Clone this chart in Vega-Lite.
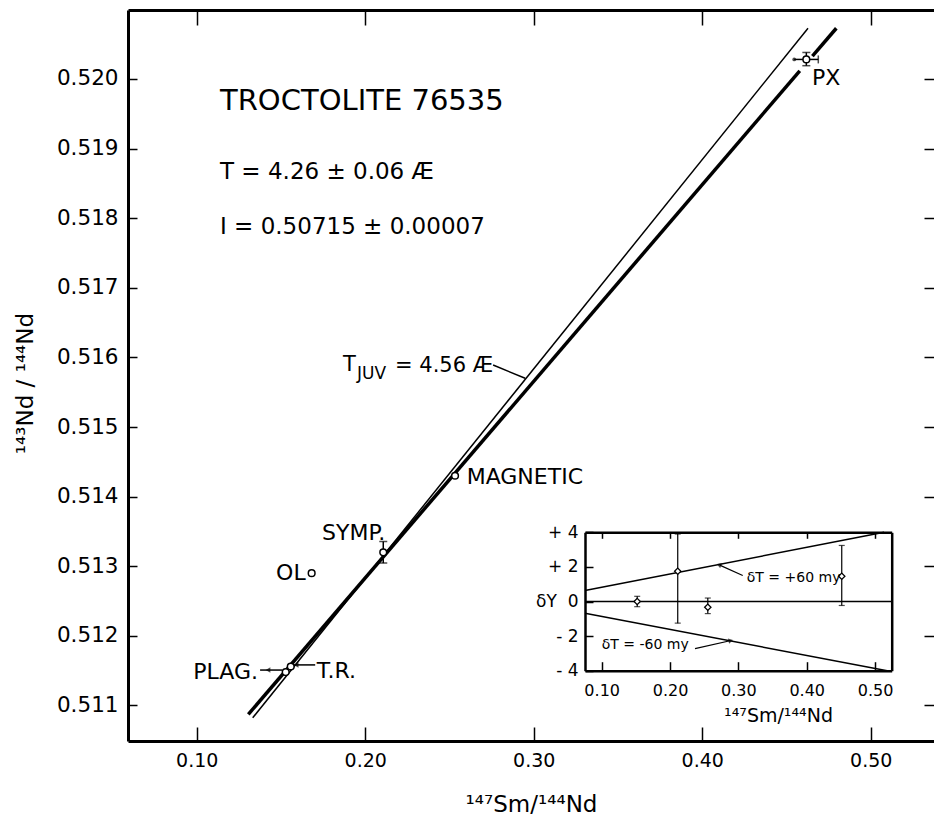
{
  "$schema": "https://vega.github.io/schema/vega-lite/v6.json",
  "width": 806,
  "height": 731,
  "autosize": {"type": "none"},
  "padding": {"left": 128, "top": 10, "right": 0, "bottom": 86},
  "background": "white",
  "config": {
    "view": {"stroke": null},
    "font": "DejaVu Sans",
    "axis": {"grid": false, "domainColor": "black", "tickColor": "black", "labelColor": "black", "titleColor": "black", "labelFont": "DejaVu Sans", "titleFont": "DejaVu Sans", "titleFontWeight": "normal"}
  },
  "datasets": {
    "iso": [
      {"seg": "a", "x": 0.1306, "y": 0.510872},
      {"seg": "a", "x": 0.4579, "y": 0.520116},
      {"seg": "b", "x": 0.4654, "y": 0.520328},
      {"seg": "b", "x": 0.4796, "y": 0.520728}
    ],
    "juv": [
      {"x": 0.1332, "y": 0.510823},
      {"x": 0.4628, "y": 0.520728}
    ],
    "pts": [
      {"name": "PLAG.", "x": 0.1528, "y": 0.51148},
      {"name": "T.R.", "x": 0.1558, "y": 0.51156},
      {"name": "OL", "x": 0.1682, "y": 0.5129},
      {"name": "SYMP.", "x": 0.2107, "y": 0.5132},
      {"name": "MAGNETIC", "x": 0.2533, "y": 0.5143},
      {"name": "PX", "x": 0.4618, "y": 0.52028}
    ],
    "ebarY": [
      {"x": 0.2107, "lo": 0.513045, "hi": 0.513355},
      {"x": 0.4618, "lo": 0.52019, "hi": 0.52038}
    ],
    "ebarX": [
      {"y": 0.52028, "lo": 0.4546, "hi": 0.4689}
    ],
    "labels": [
      {"text": "MAGNETIC", "x": 0.2602, "y": 0.514286},
      {"text": "SYMP.", "x": 0.1744, "y": 0.513477},
      {"text": "OL", "x": 0.1471, "y": 0.512898},
      {"text": "T.R.", "x": 0.1712, "y": 0.511502},
      {"text": "PX", "x": 0.4652, "y": 0.520014}
    ],
    "labelsR": [
      {"text": "PLAG.", "x": 0.1364, "y": 0.511484}
    ],
    "head": [
      {"text": "TROCTOLITE 76535", "x": 0.1138, "y": 0.519684}
    ],
    "stats": [
      {"text": "T = 4.26 ± 0.06 Æ", "x": 0.1138, "y": 0.518668},
      {"text": "I = 0.50715 ± 0.00007", "x": 0.1138, "y": 0.517878}
    ],
    "juvBig": [
      {"text": "T", "x": 0.1868, "y": 0.515891},
      {"text": "= 4.56 Æ", "x": 0.2177, "y": 0.515881}
    ],
    "juvSub": [
      {"text": "JUV", "x": 0.1951, "y": 0.515757}
    ],
    "annot": [
      {"x": 0.1376, "y": 0.511509, "x2": 0.1507, "y2": 0.511509},
      {"x": 0.1578, "y": 0.511583, "x2": 0.1703, "y2": 0.511583},
      {"x": 0.2759, "y": 0.51589, "x2": 0.2949, "y2": 0.5157}
    ],
    "heads": [
      {"x": 0.1423, "y": 0.511509},
      {"x": 0.159, "y": 0.511583}
    ],
    "inLines": [
      {"line": "+60", "x": 0.0756, "y": 0.64},
      {"line": "+60", "x": 0.5133, "y": 4},
      {"line": "0", "x": 0.0756, "y": 0},
      {"line": "0", "x": 0.5244, "y": 0},
      {"line": "-60", "x": 0.0756, "y": -0.68},
      {"line": "-60", "x": 0.5178, "y": -4}
    ],
    "inPts": [
      {"x": 0.152, "y": 0.0, "lo": -0.3, "hi": 0.3},
      {"x": 0.2113, "y": 1.75, "lo": -1.25, "hi": 3.9},
      {"x": 0.2553, "y": -0.33, "lo": -0.7, "hi": 0.2},
      {"x": 0.4513, "y": 1.46, "lo": -0.23, "hi": 3.24}
    ],
    "inLabels": [
      {"text": "δT = +60 my", "x": 0.3123, "y": 1.33},
      {"text": "δT = -60 my", "x": 0.1, "y": -2.54}
    ],
    "inArrows": [
      {"name": "plus", "x": 0.3064, "y": 1.5, "x2": 0.2727, "y2": 2.1},
      {"name": "minus", "x": 0.2366, "y": -2.72, "x2": 0.2878, "y2": -2.27}
    ]
  },
  "layer": [
    {
      "layer": [
        {
          "data": {"name": "iso"},
          "mark": {"type": "line", "color": "black", "strokeWidth": 3.5},
          "encoding": {
            "x": {"field": "x", "type": "quantitative", "scale": {"domain": [0.0592, 0.53757], "nice": false, "zero": false},
              "axis": {"orient": "bottom", "values": [0.1, 0.2, 0.3, 0.4, 0.5], "format": ".2f", "tickSize": -14, "tickWidth": 1.5, "domainWidth": 3, "labelFontSize": 19, "labelPadding": 24, "title": "¹⁴⁷Sm/¹⁴⁴Nd", "titleFontSize": 23, "titleY": 63, "titleBaseline": "middle"}},
            "y": {"field": "y", "type": "quantitative", "scale": {"domain": [0.51049, 0.52099], "nice": false, "zero": false},
              "axis": {"orient": "left", "values": [0.511, 0.512, 0.513, 0.514, 0.515, 0.516, 0.517, 0.518, 0.519, 0.52], "format": ".3f", "tickSize": -9, "tickWidth": 1.5, "domainWidth": 3, "labelFontSize": 21.5, "labelPadding": 19, "title": "¹⁴³Nd / ¹⁴⁴Nd", "titleFontSize": 23, "titleX": -103, "titleY": 373, "titleAngle": -90, "titleAlign": "center", "titleBaseline": "middle"}},
            "detail": {"field": "seg"}
          }
        },
        {
          "data": {"name": "juv"},
          "mark": {"type": "line", "color": "black", "strokeWidth": 1.5},
          "encoding": {
            "x": {"field": "x", "type": "quantitative", "scale": {"domain": [0.0592, 0.53757], "nice": false, "zero": false},
              "axis": {"orient": "top", "values": [0.1, 0.2, 0.3, 0.4, 0.5], "labels": false, "tickSize": -15, "tickWidth": 1.5, "domainWidth": 3, "title": null}},
            "y": {"field": "y", "type": "quantitative", "scale": {"domain": [0.51049, 0.52099], "nice": false, "zero": false},
              "axis": {"orient": "right", "values": [0.511, 0.512, 0.513, 0.514, 0.515, 0.516, 0.517, 0.518, 0.519, 0.52], "labels": false, "domain": false, "tickSize": -10, "tickWidth": 1.5, "title": null}}
          }
        },
        {
          "data": {"name": "ebarY"},
          "mark": {"type": "rule", "color": "black", "strokeWidth": 1.5},
          "encoding": {
            "x": {"field": "x", "type": "quantitative", "scale": {"domain": [0.0592, 0.53757], "nice": false, "zero": false}, "axis": null},
            "y": {"field": "lo", "type": "quantitative", "scale": {"domain": [0.51049, 0.52099], "nice": false, "zero": false}, "axis": null},
            "y2": {"field": "hi"}
          }
        },
        {
          "data": {"name": "ebarY"},
          "mark": {"type": "tick", "color": "black", "orient": "horizontal", "size": 8, "thickness": 1.5},
          "encoding": {
            "x": {"field": "x", "type": "quantitative", "scale": {"domain": [0.0592, 0.53757], "nice": false, "zero": false}, "axis": null},
            "y": {"field": "lo", "type": "quantitative", "scale": {"domain": [0.51049, 0.52099], "nice": false, "zero": false}, "axis": null}
          }
        },
        {
          "data": {"name": "ebarY"},
          "mark": {"type": "tick", "color": "black", "orient": "horizontal", "size": 8, "thickness": 1.5},
          "encoding": {
            "x": {"field": "x", "type": "quantitative", "scale": {"domain": [0.0592, 0.53757], "nice": false, "zero": false}, "axis": null},
            "y": {"field": "hi", "type": "quantitative", "scale": {"domain": [0.51049, 0.52099], "nice": false, "zero": false}, "axis": null}
          }
        },
        {
          "data": {"name": "ebarX"},
          "mark": {"type": "rule", "color": "black", "strokeWidth": 1.5},
          "encoding": {
            "x": {"field": "lo", "type": "quantitative", "scale": {"domain": [0.0592, 0.53757], "nice": false, "zero": false}, "axis": null},
            "x2": {"field": "hi"},
            "y": {"field": "y", "type": "quantitative", "scale": {"domain": [0.51049, 0.52099], "nice": false, "zero": false}, "axis": null}
          }
        },
        {
          "data": {"name": "ebarX"},
          "mark": {"type": "tick", "color": "black", "orient": "vertical", "size": 8, "thickness": 1.5},
          "encoding": {
            "x": {"field": "hi", "type": "quantitative", "scale": {"domain": [0.0592, 0.53757], "nice": false, "zero": false}, "axis": null},
            "y": {"field": "y", "type": "quantitative", "scale": {"domain": [0.51049, 0.52099], "nice": false, "zero": false}, "axis": null}
          }
        },
        {
          "data": {"name": "ebarX"},
          "mark": {"type": "point", "shape": "circle", "filled": true, "color": "black", "size": 14},
          "encoding": {
            "x": {"field": "lo", "type": "quantitative", "scale": {"domain": [0.0592, 0.53757], "nice": false, "zero": false}, "axis": null},
            "y": {"field": "y", "type": "quantitative", "scale": {"domain": [0.51049, 0.52099], "nice": false, "zero": false}, "axis": null}
          }
        },
        {
          "data": {"name": "annot"},
          "mark": {"type": "rule", "color": "black", "strokeWidth": 1.5},
          "encoding": {
            "x": {"field": "x", "type": "quantitative", "scale": {"domain": [0.0592, 0.53757], "nice": false, "zero": false}, "axis": null},
            "x2": {"field": "x2"},
            "y": {"field": "y", "type": "quantitative", "scale": {"domain": [0.51049, 0.52099], "nice": false, "zero": false}, "axis": null},
            "y2": {"field": "y2"}
          }
        },
        {
          "data": {"name": "heads"},
          "mark": {"type": "point", "shape": "triangle-left", "filled": true, "color": "black", "size": 30},
          "encoding": {
            "x": {"field": "x", "type": "quantitative", "scale": {"domain": [0.0592, 0.53757], "nice": false, "zero": false}, "axis": null},
            "y": {"field": "y", "type": "quantitative", "scale": {"domain": [0.51049, 0.52099], "nice": false, "zero": false}, "axis": null}
          }
        },
        {
          "data": {"name": "pts"},
          "mark": {"type": "point", "shape": "circle", "filled": true, "fill": "white", "stroke": "black", "strokeWidth": 1.5, "size": 45, "opacity": 1},
          "encoding": {
            "x": {"field": "x", "type": "quantitative", "scale": {"domain": [0.0592, 0.53757], "nice": false, "zero": false}, "axis": null},
            "y": {"field": "y", "type": "quantitative", "scale": {"domain": [0.51049, 0.52099], "nice": false, "zero": false}, "axis": null}
          }
        },
        {
          "data": {"name": "labels"},
          "mark": {"type": "text", "align": "left", "baseline": "middle", "fontSize": 22, "font": "DejaVu Sans", "color": "black"},
          "encoding": {
            "x": {"field": "x", "type": "quantitative", "scale": {"domain": [0.0592, 0.53757], "nice": false, "zero": false}, "axis": null},
            "y": {"field": "y", "type": "quantitative", "scale": {"domain": [0.51049, 0.52099], "nice": false, "zero": false}, "axis": null},
            "text": {"field": "text"}
          }
        },
        {
          "data": {"name": "labelsR"},
          "mark": {"type": "text", "align": "right", "baseline": "middle", "fontSize": 22, "font": "DejaVu Sans", "color": "black"},
          "encoding": {
            "x": {"field": "x", "type": "quantitative", "scale": {"domain": [0.0592, 0.53757], "nice": false, "zero": false}, "axis": null},
            "y": {"field": "y", "type": "quantitative", "scale": {"domain": [0.51049, 0.52099], "nice": false, "zero": false}, "axis": null},
            "text": {"field": "text"}
          }
        },
        {
          "data": {"name": "head"},
          "mark": {"type": "text", "align": "left", "baseline": "middle", "fontSize": 29, "font": "DejaVu Sans", "color": "black"},
          "encoding": {
            "x": {"field": "x", "type": "quantitative", "scale": {"domain": [0.0592, 0.53757], "nice": false, "zero": false}, "axis": null},
            "y": {"field": "y", "type": "quantitative", "scale": {"domain": [0.51049, 0.52099], "nice": false, "zero": false}, "axis": null},
            "text": {"field": "text"}
          }
        },
        {
          "data": {"name": "stats"},
          "mark": {"type": "text", "align": "left", "baseline": "middle", "fontSize": 23, "font": "DejaVu Sans", "color": "black"},
          "encoding": {
            "x": {"field": "x", "type": "quantitative", "scale": {"domain": [0.0592, 0.53757], "nice": false, "zero": false}, "axis": null},
            "y": {"field": "y", "type": "quantitative", "scale": {"domain": [0.51049, 0.52099], "nice": false, "zero": false}, "axis": null},
            "text": {"field": "text"}
          }
        },
        {
          "data": {"name": "juvBig"},
          "mark": {"type": "text", "align": "left", "baseline": "middle", "fontSize": 21, "font": "DejaVu Sans", "color": "black"},
          "encoding": {
            "x": {"field": "x", "type": "quantitative", "scale": {"domain": [0.0592, 0.53757], "nice": false, "zero": false}, "axis": null},
            "y": {"field": "y", "type": "quantitative", "scale": {"domain": [0.51049, 0.52099], "nice": false, "zero": false}, "axis": null},
            "text": {"field": "text"}
          }
        },
        {
          "data": {"name": "juvSub"},
          "mark": {"type": "text", "align": "left", "baseline": "middle", "fontSize": 17, "font": "DejaVu Sans", "color": "black"},
          "encoding": {
            "x": {"field": "x", "type": "quantitative", "scale": {"domain": [0.0592, 0.53757], "nice": false, "zero": false}, "axis": null},
            "y": {"field": "y", "type": "quantitative", "scale": {"domain": [0.51049, 0.52099], "nice": false, "zero": false}, "axis": null},
            "text": {"field": "text"}
          }
        }
      ],
      "resolve": {"axis": {"x": "independent", "y": "independent"}}
    },
    {
      "layer": [
        {
          "data": {"name": "inLines"},
          "mark": {"type": "line", "color": "black", "strokeWidth": 1.5},
          "encoding": {
            "x": {"field": "x", "type": "quantitative", "scale": {"domain": [0.0756, 0.5244], "range": [457, 763.7], "nice": false, "zero": false},
              "axis": {"orient": "bottom", "offset": -70.3, "values": [0.1, 0.2, 0.3, 0.4, 0.5], "format": ".2f", "tickSize": -9, "tickWidth": 1.5, "domainWidth": 2.5, "labelFontSize": 16, "labelPadding": 21, "title": "¹⁴⁷Sm/¹⁴⁴Nd", "titleFontSize": 19, "titleX": 650, "titleY": 45, "titleBaseline": "middle"}},
            "y": {"field": "y", "type": "quantitative", "scale": {"domain": [-4, 4], "range": [660.7, 522.3], "nice": false, "zero": false},
              "axis": {"orient": "left", "offset": -457, "values": [-4, -2, 0, 2, 4], "labelExpr": "datum.value > 0 ? '+ ' + datum.value : (datum.value < 0 ? '- ' + (-datum.value) : '0')", "tickSize": -8, "tickWidth": 1.5, "domainWidth": 2.5, "labelFontSize": 17, "labelPadding": 15, "title": "δY", "titleFontSize": 17, "titleAngle": 0, "titleX": -39, "titleY": 591, "titleAlign": "center", "titleBaseline": "middle"}},
            "detail": {"field": "line"}
          }
        },
        {
          "data": {"name": "inPts"},
          "mark": {"type": "rule", "color": "black", "strokeWidth": 1.2},
          "encoding": {
            "x": {"field": "x", "type": "quantitative", "scale": {"domain": [0.0756, 0.5244], "range": [457, 763.7], "nice": false, "zero": false},
              "axis": {"orient": "top", "offset": -522.3, "values": [0.1, 0.2, 0.3, 0.4, 0.5], "labels": false, "tickSize": -6, "tickWidth": 1.5, "domainWidth": 2.5, "title": null}},
            "y": {"field": "lo", "type": "quantitative", "scale": {"domain": [-4, 4], "range": [660.7, 522.3], "nice": false, "zero": false},
              "axis": {"orient": "right", "offset": -42.3, "values": [-4, -2, 0, 2, 4], "labels": false, "ticks": false, "domainWidth": 2.5, "title": null}},
            "y2": {"field": "hi"}
          }
        },
        {
          "data": {"name": "inPts"},
          "mark": {"type": "tick", "color": "black", "orient": "horizontal", "size": 6, "thickness": 1.2},
          "encoding": {
            "x": {"field": "x", "type": "quantitative", "scale": {"domain": [0.0756, 0.5244], "range": [457, 763.7], "nice": false, "zero": false}, "axis": null},
            "y": {"field": "lo", "type": "quantitative", "scale": {"domain": [-4, 4], "range": [660.7, 522.3], "nice": false, "zero": false}, "axis": null}
          }
        },
        {
          "data": {"name": "inPts"},
          "mark": {"type": "tick", "color": "black", "orient": "horizontal", "size": 6, "thickness": 1.2},
          "encoding": {
            "x": {"field": "x", "type": "quantitative", "scale": {"domain": [0.0756, 0.5244], "range": [457, 763.7], "nice": false, "zero": false}, "axis": null},
            "y": {"field": "hi", "type": "quantitative", "scale": {"domain": [-4, 4], "range": [660.7, 522.3], "nice": false, "zero": false}, "axis": null}
          }
        },
        {
          "data": {"name": "inPts"},
          "mark": {"type": "point", "shape": "diamond", "filled": true, "fill": "white", "stroke": "black", "strokeWidth": 1.3, "size": 40, "opacity": 1},
          "encoding": {
            "x": {"field": "x", "type": "quantitative", "scale": {"domain": [0.0756, 0.5244], "range": [457, 763.7], "nice": false, "zero": false}, "axis": null},
            "y": {"field": "y", "type": "quantitative", "scale": {"domain": [-4, 4], "range": [660.7, 522.3], "nice": false, "zero": false}, "axis": null}
          }
        },
        {
          "data": {"name": "inArrows"},
          "mark": {"type": "rule", "color": "black", "strokeWidth": 1.2},
          "encoding": {
            "x": {"field": "x", "type": "quantitative", "scale": {"domain": [0.0756, 0.5244], "range": [457, 763.7], "nice": false, "zero": false}, "axis": null},
            "x2": {"field": "x2"},
            "y": {"field": "y", "type": "quantitative", "scale": {"domain": [-4, 4], "range": [660.7, 522.3], "nice": false, "zero": false}, "axis": null},
            "y2": {"field": "y2"}
          }
        },
        {
          "data": {"name": "inArrows"},
          "transform": [{"filter": "datum.name == 'plus'"}],
          "mark": {"type": "point", "shape": "triangle", "angle": 291, "filled": true, "color": "black", "size": 28},
          "encoding": {
            "x": {"field": "x2", "type": "quantitative", "scale": {"domain": [0.0756, 0.5244], "range": [457, 763.7], "nice": false, "zero": false}, "axis": null},
            "y": {"field": "y2", "type": "quantitative", "scale": {"domain": [-4, 4], "range": [660.7, 522.3], "nice": false, "zero": false}, "axis": null}
          }
        },
        {
          "data": {"name": "inArrows"},
          "transform": [{"filter": "datum.name == 'minus'"}],
          "mark": {"type": "point", "shape": "triangle", "angle": 77, "filled": true, "color": "black", "size": 28},
          "encoding": {
            "x": {"field": "x2", "type": "quantitative", "scale": {"domain": [0.0756, 0.5244], "range": [457, 763.7], "nice": false, "zero": false}, "axis": null},
            "y": {"field": "y2", "type": "quantitative", "scale": {"domain": [-4, 4], "range": [660.7, 522.3], "nice": false, "zero": false}, "axis": null}
          }
        },
        {
          "data": {"name": "inLabels"},
          "mark": {"type": "text", "align": "left", "baseline": "middle", "fontSize": 14, "font": "DejaVu Sans", "color": "black"},
          "encoding": {
            "x": {"field": "x", "type": "quantitative", "scale": {"domain": [0.0756, 0.5244], "range": [457, 763.7], "nice": false, "zero": false}, "axis": null},
            "y": {"field": "y", "type": "quantitative", "scale": {"domain": [-4, 4], "range": [660.7, 522.3], "nice": false, "zero": false}, "axis": null},
            "text": {"field": "text"}
          }
        }
      ],
      "resolve": {"axis": {"x": "independent", "y": "independent"}}
    }
  ],
  "resolve": {"scale": {"x": "independent", "y": "independent"}, "axis": {"x": "independent", "y": "independent"}}
}
